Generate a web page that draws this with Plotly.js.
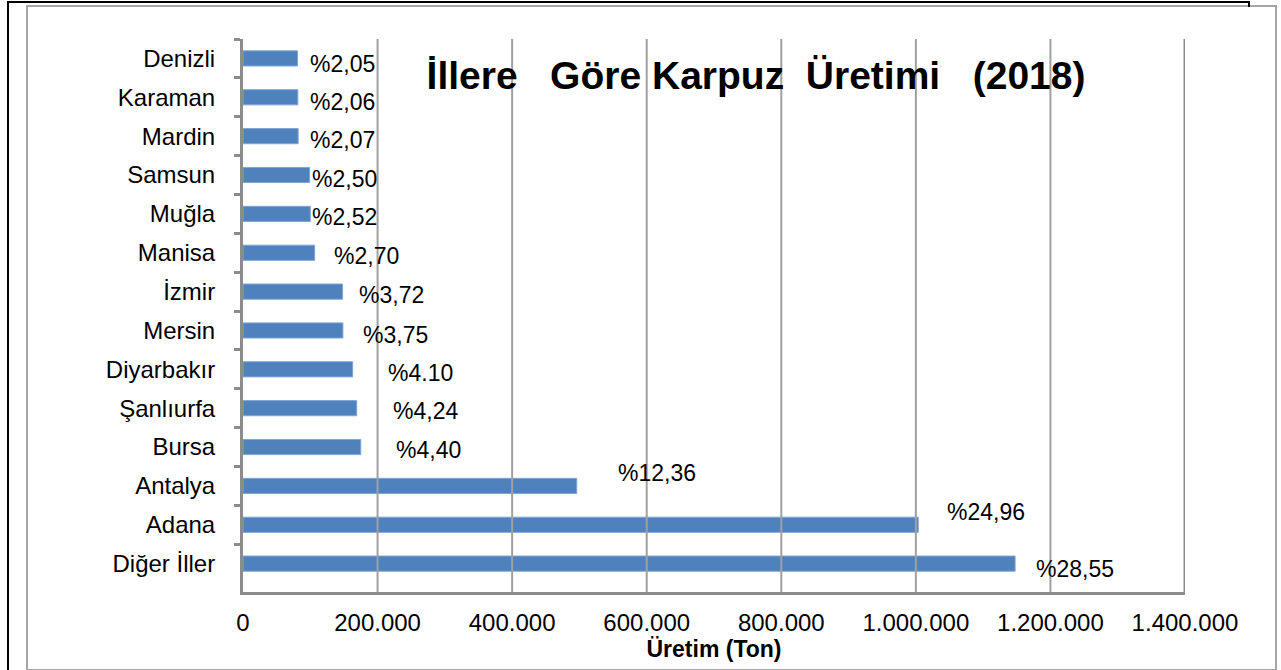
<!DOCTYPE html>
<html>
<head>
<meta charset="utf-8">
<script src="https://cdn.plot.ly/plotly-3.0.1.min.js"></script>
<style>
  html, body { margin: 0; padding: 0; background: #fff; }
  #wrap { position: relative; width: 1281px; height: 670px; overflow: hidden; }
  #chart { position: absolute; left: 0; top: 0; width: 1281px; height: 670px; }
  .blk-top { position: absolute; left: 8px; top: 1px; width: 1242px; height: 2px; background: #000; pointer-events: none; }
  .blk-tick { position: absolute; left: 1248px; top: 1px; width: 2px; height: 6px; background: #000; pointer-events: none; }
  .blk-left { position: absolute; left: 7px; top: 1px; width: 2px; height: 670px; background: #000; pointer-events: none; }
  .gray-box { position: absolute; left: 26px; top: 5px; width: 1247px; height: 662px; border: 2px solid #a6a6a6; pointer-events: none; }
</style>
</head>
<body>
<div id="wrap">
  <div id="chart"></div>
  <div class="gray-box"></div>
  <div class="blk-top"></div>
  <div class="blk-tick"></div>
  <div class="blk-left"></div>
</div>
<script>
// Data (top to bottom as shown)
const provinces = ["Denizli", "Karaman", "Mardin", "Samsun", "Muğla", "Manisa", "İzmir", "Mersin", "Diyarbakır", "Şanlıurfa", "Bursa", "Antalya", "Adana", "Diğer İller"];
const productionTon = [81000, 81500, 82000, 99000, 100000, 106500, 148000, 148500, 163000, 169000, 175000, 496000, 1003500, 1147500];
const shareLabels = ["%2,05", "%2,06", "%2,07", "%2,50", "%2,52", "%2,70", "%3,72", "%3,75", "%4.10", "%4,24", "%4,40", "%12,36", "%24,96", "%28,55"];
const xTickValues = [0, 200000, 400000, 600000, 800000, 1000000, 1200000, 1400000];

// Label placement (pixel shifts, as manually placed in the original)
const labelDx = [10, 10, 10, 0, 0, 17, 14, 18, 33, 34, 33, 39, 27, 19];
const labelDy = [-6, -5, -4, -4, -3, -3, -3, -5, -4, -3, -3, 13, 13, -5];

const FONT = "Liberation Sans, Arial, sans-serif";

const annotations = provinces.map((p, i) => ({
  x: productionTon[i], y: p, xref: "x", yref: "y",
  text: shareLabels[i], showarrow: false,
  xanchor: "left", yanchor: "middle",
  xshift: labelDx[i], yshift: labelDy[i],
  font: { family: FONT, size: 23, color: "#000" }
}));

const gridShapes = xTickValues.filter(v => v > 0).map(v => ({
  type: "line", xref: "x", yref: "paper", x0: v, x1: v, y0: 0, y1: 1,
  line: { color: v === 1400000 ? "#8c8c8c" : "#a0a0a0", width: v === 1400000 ? 3 : 2 },
  layer: "above"
}));

const trace = {
  type: "bar", orientation: "h",
  x: productionTon, y: provinces,
  width: 0.39,
  marker: { color: "#4f81bd", line: { color: "#7fa5d6", width: 1 } },
  hoverinfo: "x+y"
};

const layout = {
  width: 1281, height: 670,
  margin: { l: 243, r: 96, t: 39, b: 78, pad: 0 },
  paper_bgcolor: "rgba(0,0,0,0)",
  plot_bgcolor: "#fff",
  separators: ",.",
  showlegend: false,
  title: {
    text: "İllere\u00a0\u00a0\u00a0Göre Karpuz\u00a0\u00a0Üretimi\u00a0\u00a0\u00a0(2018)",
    font: { family: "Liberation Sans, Arial, sans-serif", size: 39, color: "#000", weight: "bold" },
    x: 756 / 1281, xref: "container", xanchor: "center",
    y: 1 - 75 / 670, yref: "container", yanchor: "middle"
  },
  xaxis: {
    range: [0, 1400000],
    tickvals: xTickValues,
    tickformat: ",.0f",
    showgrid: false,
    zeroline: false,
    showline: true, linecolor: "#8c8c8c", linewidth: 3,
    ticks: "",
    ticklabelstandoff: 7,
    tickfont: { family: FONT, size: 24, color: "#000" },
    title: { text: "<b>Üretim (Ton)</b>", font: { family: FONT, size: 23, color: "#000" }, standoff: 2 },
    automargin: false,
    fixedrange: true
  },
  yaxis: {
    type: "category",
    categoryorder: "array", categoryarray: provinces,
    range: [13.73, -0.5],
    showgrid: false, zeroline: false,
    showline: true, linecolor: "#8c8c8c", linewidth: 3,
    ticks: "outside", tickson: "boundaries", ticklen: 6, tickwidth: 3, tickcolor: "#8c8c8c",
    ticklabelstandoff: 20,
    tickfont: { family: FONT, size: 24, color: "#000" },
    automargin: false,
    fixedrange: true
  },
  shapes: gridShapes,
  annotations: annotations
};

Plotly.newPlot("chart", [trace], layout, { displayModeBar: false, staticPlot: true });
</script>
</body>
</html>
